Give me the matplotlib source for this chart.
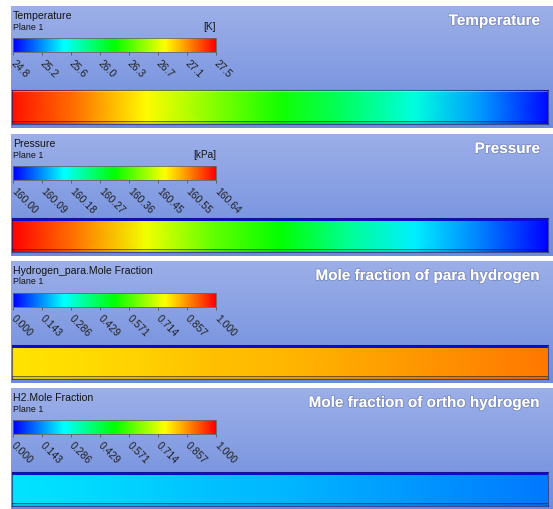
import numpy as np
import matplotlib
matplotlib.use("Agg")
import matplotlib.pyplot as plt
import matplotlib.patheffects as pe
from matplotlib.colors import LinearSegmentedColormap, Normalize
from matplotlib.cm import ScalarMappable
from matplotlib.transforms import ScaledTranslation

plt.rcParams['font.family'] = ['Liberation Sans', 'DejaVu Sans']

# === DATA ===
var_names = ["Temperature", "Pressure", "Hydrogen_para.Mole Fraction", "H2.Mole Fraction"]
units = ["[K]", "[kPa]", "", ""]
titles = ["Temperature", "Pressure", "Mole fraction of para hydrogen",
          "Mole fraction of ortho hydrogen"]
ranges = [(24.8, 27.5), (160.00, 160.64), (0.0, 1.0), (0.0, 1.0)]
tick_labels = [
    ["24.8", "25.2", "25.6", "26.0", "26.3", "26.7", "27.1", "27.5"],
    ["160.00", "160.09", "160.18", "160.27", "160.36", "160.45", "160.55", "160.64"],
    ["0.000", "0.143", "0.286", "0.429", "0.571", "0.714", "0.857", "1.000"],
    ["0.000", "0.143", "0.286", "0.429", "0.571", "0.714", "0.857", "1.000"],
]
# field values sampled along the pipe (inlet -> outlet)
pipe_pos = [0.0, 0.125, 0.25, 0.375, 0.5, 0.625, 0.75, 0.875, 1.0]
temperature = [27.45, 27.18, 26.83, 26.50, 26.20, 25.88, 25.56, 25.21, 24.83]
pressure = [160.64, 160.56, 160.47, 160.38, 160.32, 160.23, 160.15, 160.08, 160.00]
para_frac = [0.775, 0.785, 0.795, 0.81, 0.82, 0.835, 0.85, 0.865, 0.88]
ortho_frac = [0.225, 0.215, 0.205, 0.19, 0.18, 0.165, 0.15, 0.135, 0.12]
fields = [temperature, pressure, para_frac, ortho_frac]

# === LAYOUT (pixels) ===
W, H = 553, 510
panel_tops = [7, 135, 262, 389]
PANEL_H = 122
top_edge = [None, '#0a0ae0', '#0a0ae0', '#0a0ae0']

rainbow = LinearSegmentedColormap.from_list(
    "ansys", [(0, '#0000ff'), (0.25, '#00ffff'), (0.5, '#00ff00'),
              (0.75, '#ffff00'), (1.0, '#ff0000')])
bg_cmap = LinearSegmentedColormap.from_list("bg", ['#9cafe8', '#6e8cdd'])


def rect(x, y, w, h):
    return [x / W, 1 - (y + h) / H, w / W, h / H]


def fxy(x, y):
    return x / W, 1 - y / H


fig = plt.figure(figsize=(W / 100, H / 100), dpi=100, facecolor='white')
shift = ScaledTranslation(3.5 / 100, 0, fig.dpi_scale_trans)

for i, t in enumerate(panel_tops):
    # panel background
    bg = fig.add_axes(rect(11, t, 542, PANEL_H))
    bg.imshow(np.linspace(0, 1, 200)[:, None][::-1], cmap=bg_cmap, aspect='auto',
              extent=[0, 1, 0, 1], origin='lower')
    bg.set_axis_off()

    # legend header
    fig.text(*fxy(13, t + 9), var_names[i], fontsize=7.6, color='#151515', va='center')
    fig.text(*fxy(13, t + 20), "Plane 1", fontsize=6.4, color='#151515', va='center')
    if units[i]:
        fig.text(*fxy(216, t + 20), units[i], fontsize=7.2, color='#151515',
                 va='center', ha='right')

    # colour legend
    lo, hi = ranges[i]
    norm = Normalize(lo, hi)
    cax = fig.add_axes(rect(13, t + 32, 203, 14))
    cb = fig.colorbar(ScalarMappable(norm=norm, cmap=rainbow), cax=cax,
                      orientation='horizontal')
    cb.outline.set_edgecolor('#666666')
    cb.outline.set_linewidth(0.6)
    ticks = np.linspace(lo, hi, len(tick_labels[i]))
    cb.set_ticks(ticks)
    cax.set_xticklabels(tick_labels[i], rotation=-45, ha='left', va='top',
                        rotation_mode='anchor', fontsize=7.5, color='#202020')
    cax.tick_params(axis='x', length=2.5, width=0.6, color='#555555', pad=1.5)
    for lab in cax.get_xticklabels():
        lab.set_transform(lab.get_transform() + shift)

    # pipe field
    pax = fig.add_axes(rect(12, t + 84, 536, 34))
    vals = np.array(fields[i])
    pax.pcolormesh(pipe_pos, [0, 1], np.vstack([vals, vals]), shading='gouraud',
                   cmap=rainbow, norm=norm)
    if top_edge[i]:
        pax.axhspan(1 - 2.5 / 34, 1, color=top_edge[i], lw=0)
    else:
        pax.axhline(1 - 0.5 / 34, color='white', lw=0.8, alpha=0.35)
    pax.axhspan(0, 3.5 / 34, color='black', alpha=0.12, lw=0)
    pax.axhline(3.5 / 34, color='#202020', lw=0.7, alpha=0.55)
    pax.set_xlim(0, 1)
    pax.set_ylim(0, 1)
    pax.set_xticks([])
    pax.set_yticks([])
    for s in pax.spines.values():
        s.set_color('#1a1a60')
        s.set_alpha(0.6)
        s.set_linewidth(0.8)

    # title
    fig.text(*fxy(540, t + 15), titles[i], fontsize=11, fontweight='bold',
             color='white', ha='right', va='center',
             path_effects=[pe.withStroke(linewidth=1.2, foreground=(0.25, 0.3, 0.5, 0.35))])

fig.savefig("out.png", dpi=100, facecolor='white')
